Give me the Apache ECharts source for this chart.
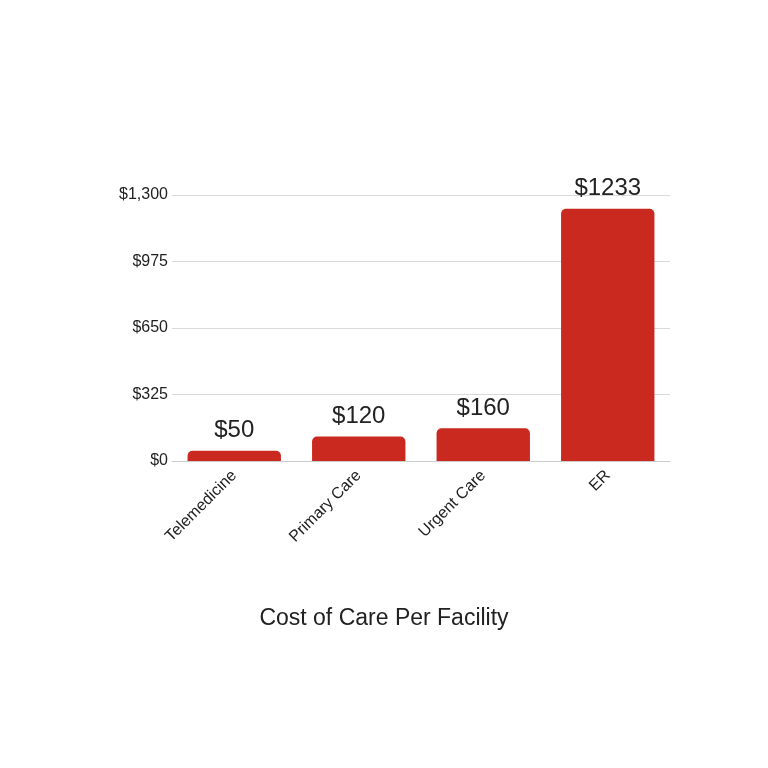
<!DOCTYPE html>
<html><head><meta charset="utf-8">
<script src="https://cdn.jsdelivr.net/npm/echarts@6/dist/echarts.min.js"></script>
<style>html,body{margin:0;padding:0;background:#fff}#c{width:768px;height:768px}</style>
</head><body><div id="c"></div>
<script>
const categories = ["Telemedicine", "Primary Care", "Urgent Care", "ER"];
const costs = [50, 120, 160, 1233];
const yTicks = [0, 325, 650, 975, 1300];
const chart = echarts.init(document.getElementById('c'));
chart.setOption({
  animation: false,
  title: { text: "Cost of Care Per Facility", left: 'center', top: 602,
    textStyle: { fontFamily: 'Liberation Sans, Arial', fontWeight: 'normal', fontSize: 23, color: '#222' } },
  grid: { left: 172, right: 98, top: 195, bottom: 307 },
  xAxis: { type: 'category', data: categories,
    axisLine: { lineStyle: { color: '#ccc' } }, axisTick: { show: false },
    axisLabel: { rotate: 45, fontSize: 16, color: '#222', fontFamily: 'Liberation Sans, Arial', margin: 12 } },
  yAxis: { type: 'value', min: 0, max: 1300, interval: 325,
    axisLine: { show: false }, axisTick: { show: false },
    splitLine: { lineStyle: { color: '#d9d9d9' } },
    axisLabel: { fontSize: 16, color: '#222', fontFamily: 'Liberation Sans, Arial', margin: 4,
      formatter: v => '$' + v.toLocaleString('en-US') } },
  series: [{ type: 'bar', data: costs, barWidth: '75%',
    itemStyle: { color: '#c9291e', borderRadius: [5, 5, 0, 0] },
    label: { show: true, position: 'top', distance: 8, fontSize: 24, color: '#222',
      fontFamily: 'Liberation Sans, Arial', formatter: p => '$' + p.value } }]
});
</script></body></html>
